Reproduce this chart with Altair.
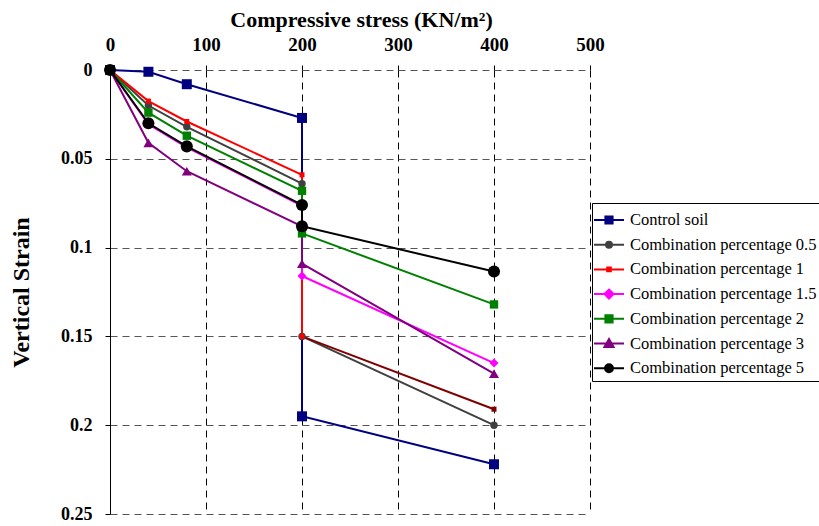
import altair as alt
import pandas as pd

FONT = "Liberation Serif"

series_names = [
    "Control soil",
    "Combination percentage 0.5",
    "Combination percentage 1",
    "Combination percentage 1.5",
    "Combination percentage 2",
    "Combination percentage 3",
    "Combination percentage 5",
]
stress = [0, 40, 80, 200, 200, 400]
strain_control = [0, 0.001, 0.008, 0.027, 0.195, 0.222]
strain_05 = [0, 0.020, 0.032, 0.064, 0.150, 0.200]
strain_1 = [0, 0.0175, 0.029, 0.059, 0.150, 0.191]
strain_15 = [0, 0.0305, 0.0435, 0.0765, 0.116, 0.165]
strain_2 = [0, 0.024, 0.037, 0.068, 0.092, 0.132]
strain_3 = [0, 0.041, 0.057, 0.088, 0.109, 0.171]
strain_5 = [0, 0.030, 0.043, 0.076, 0.088, 0.1135]
strains = [strain_control, strain_05, strain_1, strain_15, strain_2, strain_3, strain_5]

colors = ["#000080", "#404040", "#FF0000", "#FF00FF", "#008000", "#800080", "#000000"]
tail_color = {"Combination percentage 1": "#800000"}  # last segment colour
markers = ["square", "circle", "square", "diamond", "square", "triangle-up", "circle"]
marker_sizes = [100, 55, 25, 81, 70, 100, 145]

x_ticks = [0, 100, 200, 300, 400, 500]
y_ticks = [0, 0.05, 0.1, 0.15, 0.2, 0.25]


def sq(h):
    return f"M{-h},{-h}H{h}V{h}H{-h}Z"


def circ(r):
    return f"M{r},0A{r},{r},0,1,1,{-r},0A{r},{r},0,1,1,{r},0Z"


def diam(r):
    return f"M0,{-r}L{r},0L0,{r}L{-r},0Z"


def tri(r):
    return f"M0,{-r}L{r},{r*0.75}L{-r},{r*0.75}Z"


LINE = "M-1.25,0H1.25"
legend_paths = [
    LINE + sq(0.3),
    LINE + circ(0.25),
    LINE + sq(0.15),
    LINE + diam(0.38),
    LINE + sq(0.3),
    LINE + tri(0.38),
    LINE + circ(0.33),
]

x_enc = alt.X(
    "stress:Q",
    scale=alt.Scale(domain=[0, 500], nice=False),
    axis=alt.Axis(
        orient="top", values=x_ticks, format="d",
        title="Compressive stress (KN/m²)",
        titleFont=FONT, titleFontSize=22, titleFontWeight="bold", titleColor="black",
        titleX=251, titlePadding=4,
        labelFont=FONT, labelFontSize=19, labelFontWeight="bold", labelColor="black",
        labelPadding=11, tickSize=5, tickColor="black", domain=False,
        grid=True, gridDash=[7, 5], gridColor="black", gridOpacity=1, gridWidth=1,
        labelFlush=False,
    ),
)
y_enc = alt.Y(
    "strain:Q",
    scale=alt.Scale(domain=[0, 0.25], reverse=True, nice=False),
    axis=alt.Axis(
        values=y_ticks, format=".2~f",
        title="Vertical Strain",
        titleFont=FONT, titleFontSize=24, titleFontWeight="bold", titleColor="black",
        titlePadding=27,
        labelFont=FONT, labelFontSize=18, labelFontWeight="bold", labelColor="black",
        labelPadding=13, tickSize=5, tickColor="black",
        domain=True, domainColor="black", domainWidth=1,
        grid=True, gridDash=[7, 5], gridColor="#555555", gridOpacity=1, gridWidth=1,
        labelFlush=False,
    ),
)

layers = []
point_rows = []
for name, ys, col, mk, ms in zip(series_names, strains, colors, markers, marker_sizes):
    n = len(ys)
    tcol = tail_color.get(name)
    cut = n - 2 if tcol else n - 1
    main = pd.DataFrame({"stress": stress[: cut + 1], "strain": ys[: cut + 1], "order": list(range(cut + 1))})
    layers.append(
        alt.Chart(main).mark_line(strokeWidth=2, color=col).encode(x=x_enc, y=y_enc, order="order:Q")
    )
    if tcol:
        tail = pd.DataFrame({"stress": stress[cut:], "strain": ys[cut:], "order": list(range(n - cut))})
        layers.append(
            alt.Chart(tail).mark_line(strokeWidth=2, color=tcol).encode(x=x_enc, y=y_enc, order="order:Q")
        )
    for i, (xv, yv) in enumerate(zip(stress, ys)):
        pc = tcol if (tcol and i == n - 1) else col
        point_rows.append({"stress": xv, "strain": yv, "marker": mk, "msize": ms, "pcolor": pc})

points = alt.Chart(pd.DataFrame(point_rows)).mark_point(filled=True, opacity=1).encode(
    x=x_enc, y=y_enc,
    shape=alt.Shape("marker:N", scale=None),
    size=alt.Size("msize:Q", scale=None),
    color=alt.Color("pcolor:N", scale=None),
)
layers.append(points)

legend = alt.Legend(
    title=None, orient="none", legendX=482, legendY=133,
    padding=4, fillColor="white", strokeColor="black",
    labelFont=FONT, labelFontSize=16.5, labelColor="black", labelLimit=400,
    labelOffset=8, symbolSize=576, symbolStrokeWidth=2, rowPadding=2.7,
    symbolOpacity=1,
)
leg_df = pd.DataFrame({"series": series_names, "stress": [0] * 7, "strain": [0] * 7})
leg_layer = alt.Chart(leg_df).mark_point(filled=True, opacity=0).encode(
    x=x_enc, y=y_enc,
    shape=alt.Shape("series:N", scale=alt.Scale(domain=series_names, range=legend_paths), legend=legend, sort=series_names),
    fill=alt.Fill("series:N", scale=alt.Scale(domain=series_names, range=colors), legend=legend, sort=series_names),
    stroke=alt.Stroke("series:N", scale=alt.Scale(domain=series_names, range=colors), legend=legend, sort=series_names),
)
layers.insert(0, leg_layer)

chart = alt.layer(*layers).properties(
    width=480, height=444,
    autosize=alt.AutoSizeParams(type="none"),
    padding={"left": 110, "top": 70, "right": 229, "bottom": 12},
    background="white",
).configure_view(stroke=None)

chart.save("out.html", embed_options={"renderer": "svg", "actions": False})
